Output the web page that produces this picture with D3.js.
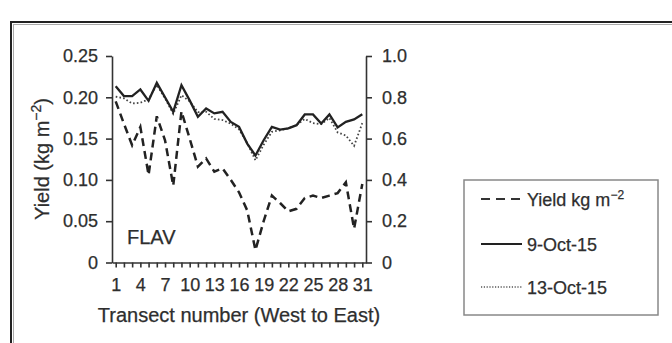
<!DOCTYPE html>
<html>
<head>
<meta charset="utf-8">
<script src="https://cdn.jsdelivr.net/npm/d3@7"></script>
<style>
  html, body { margin: 0; padding: 0; background: #fff; }
  svg { display: block; font-family: "Liberation Sans", Arial, Helvetica, sans-serif; }
  svg text { fill: #2e2e2e; stroke: #2e2e2e; stroke-width: 0.25; }
  .axis path, .axis line { stroke: #333; stroke-width: 1.6; }
</style>
</head>
<body>
<svg id="chart" width="672" height="343"></svg>
<script>
// Transect numbers, west to east
const transects = [1,2,3,4,5,6,7,8,9,10,11,12,13,14,15,16,17,18,19,20,21,22,23,24,25,26,27,28,29,30,31];
// Yield (kg m-2), left axis
const yieldKg = [0.195,0.168,0.142,0.164,0.106,0.177,0.148,0.093,0.183,0.150,0.116,0.126,0.110,0.114,0.100,0.085,
                 0.063,0.015,0.050,0.081,0.072,0.062,0.065,0.078,0.081,0.078,0.081,0.084,0.097,0.041,0.095];
// Index values for the two survey dates, right axis
const oct9 = [0.854,0.806,0.806,0.838,0.783,0.870,0.800,0.730,0.859,0.785,0.706,0.746,0.722,0.730,0.681,0.657,
              0.576,0.518,0.592,0.657,0.644,0.650,0.665,0.717,0.717,0.673,0.717,0.654,0.681,0.693,0.718];
const oct13 = [0.803,0.795,0.770,0.774,0.790,0.860,0.795,0.720,0.810,0.780,0.728,0.730,0.695,0.690,0.672,0.645,
               0.578,0.495,0.570,0.633,0.640,0.650,0.665,0.695,0.675,0.670,0.700,0.630,0.615,0.565,0.675];
const leftTicks = [0,0.05,0.10,0.15,0.20,0.25];
const rightTicks = [0,0.2,0.4,0.6,0.8,1.0];
const labelledTransects = [1,4,7,10,13,16,19,22,25,28,31];
const legendLabels = ["Yield kg m", "9-Oct-15", "13-Oct-15"];

const svg = d3.select("#chart");

// outer frame
svg.append("rect").attr("x", 11).attr("y", 22).attr("width", 700).attr("height", 400)
  .attr("fill", "none").attr("stroke", "#222").attr("stroke-width", 2);
svg.append("rect").attr("x", 13.5).attr("y", 24.5).attr("width", 700).attr("height", 400)
  .attr("fill", "none").attr("stroke", "#aaa").attr("stroke-width", 1);

const x = d3.scaleLinear().domain([0.55, 31.45]).range([112, 366]);
const yL = d3.scaleLinear().domain([0, 0.25]).range([262.5, 56]);
const yR = d3.scaleLinear().domain([0, 1]).range([262.5, 56]);

// left axis
const gL = svg.append("g").attr("class", "axis").attr("transform", "translate(112,0)")
  .call(d3.axisLeft(yL).tickValues(leftTicks).tickSize(6).tickSizeOuter(0).tickPadding(8)
    .tickFormat(d => d === 0 ? "0" : d3.format(".2f")(d)));
gL.selectAll("text").attr("font-size", 18);

// right axis
const gR = svg.append("g").attr("class", "axis").attr("transform", "translate(366,0)")
  .call(d3.axisRight(yR).tickValues(rightTicks).tickSize(6).tickSizeOuter(0).tickPadding(10)
    .tickFormat(d => d === 0 ? "0" : d3.format(".1f")(d)));
gR.selectAll("text").attr("font-size", 18);

// bottom axis
const gX = svg.append("g").attr("class", "axis").attr("transform", "translate(0,262.5)")
  .call(d3.axisBottom(x).tickValues(transects).tickSize(5).tickSizeOuter(0).tickPadding(11)
    .tickFormat(d => labelledTransects.includes(d) ? d : ""));
gX.selectAll("text").attr("font-size", 18);
gX.selectAll("line").attr("stroke-width", 1.3);

// axis titles
svg.append("text").attr("x", 239).attr("y", 322).attr("text-anchor", "middle")
  .attr("font-size", 20).text("Transect number (West to East)");
const yt = svg.append("text").attr("transform", "translate(49,159) rotate(-90)")
  .attr("text-anchor", "middle").attr("font-size", 20);
yt.append("tspan").text("Yield (kg m");
yt.append("tspan").attr("dy", -8).attr("font-size", 14).text("\u22122");
yt.append("tspan").attr("dy", 8).text(")");

svg.append("text").attr("x", 127).attr("y", 244).attr("font-size", 20).text("FLAV");

// series lines
const lineL = d3.line().x((d, i) => x(transects[i])).y(d => yL(d));
const lineR = d3.line().x((d, i) => x(transects[i])).y(d => yR(d));

svg.append("path").datum(oct13).attr("d", lineR).attr("fill", "none")
  .attr("stroke", "#444").attr("stroke-width", 1.8).attr("stroke-dasharray", "1.6,2.2");
svg.append("path").datum(oct9).attr("d", lineR).attr("fill", "none")
  .attr("stroke", "#222").attr("stroke-width", 2.3).attr("stroke-linejoin", "miter");
svg.append("path").datum(yieldKg).attr("d", lineL).attr("fill", "none")
  .attr("stroke", "#222").attr("stroke-width", 2.5).attr("stroke-dasharray", "8,5");

// legend
const lg = svg.append("g");
lg.append("rect").attr("x", 464).attr("y", 180).attr("width", 194).attr("height", 135)
  .attr("fill", "#fff").attr("stroke", "#888").attr("stroke-width", 1.5);
const rowY = [199, 244, 287];
const styles = [
  {w: 2.2, dash: "9,6", c: "#333"},
  {w: 2.2, dash: null, c: "#222"},
  {w: 1.4, dash: "1.2,1.6", c: "#555"}
];
rowY.forEach((ry, i) => {
  const l = lg.append("line").attr("x1", 481).attr("x2", 522).attr("y1", ry).attr("y2", ry)
    .attr("stroke", styles[i].c).attr("stroke-width", styles[i].w);
  if (styles[i].dash) l.attr("stroke-dasharray", styles[i].dash);
  const t = lg.append("text").attr("x", 527).attr("y", ry + 6.5).attr("font-size", 18);
  t.append("tspan").text(legendLabels[i]);
  if (i === 0) t.append("tspan").attr("dy", -7).attr("font-size", 12).text("\u22122");
});
</script>
</body>
</html>
